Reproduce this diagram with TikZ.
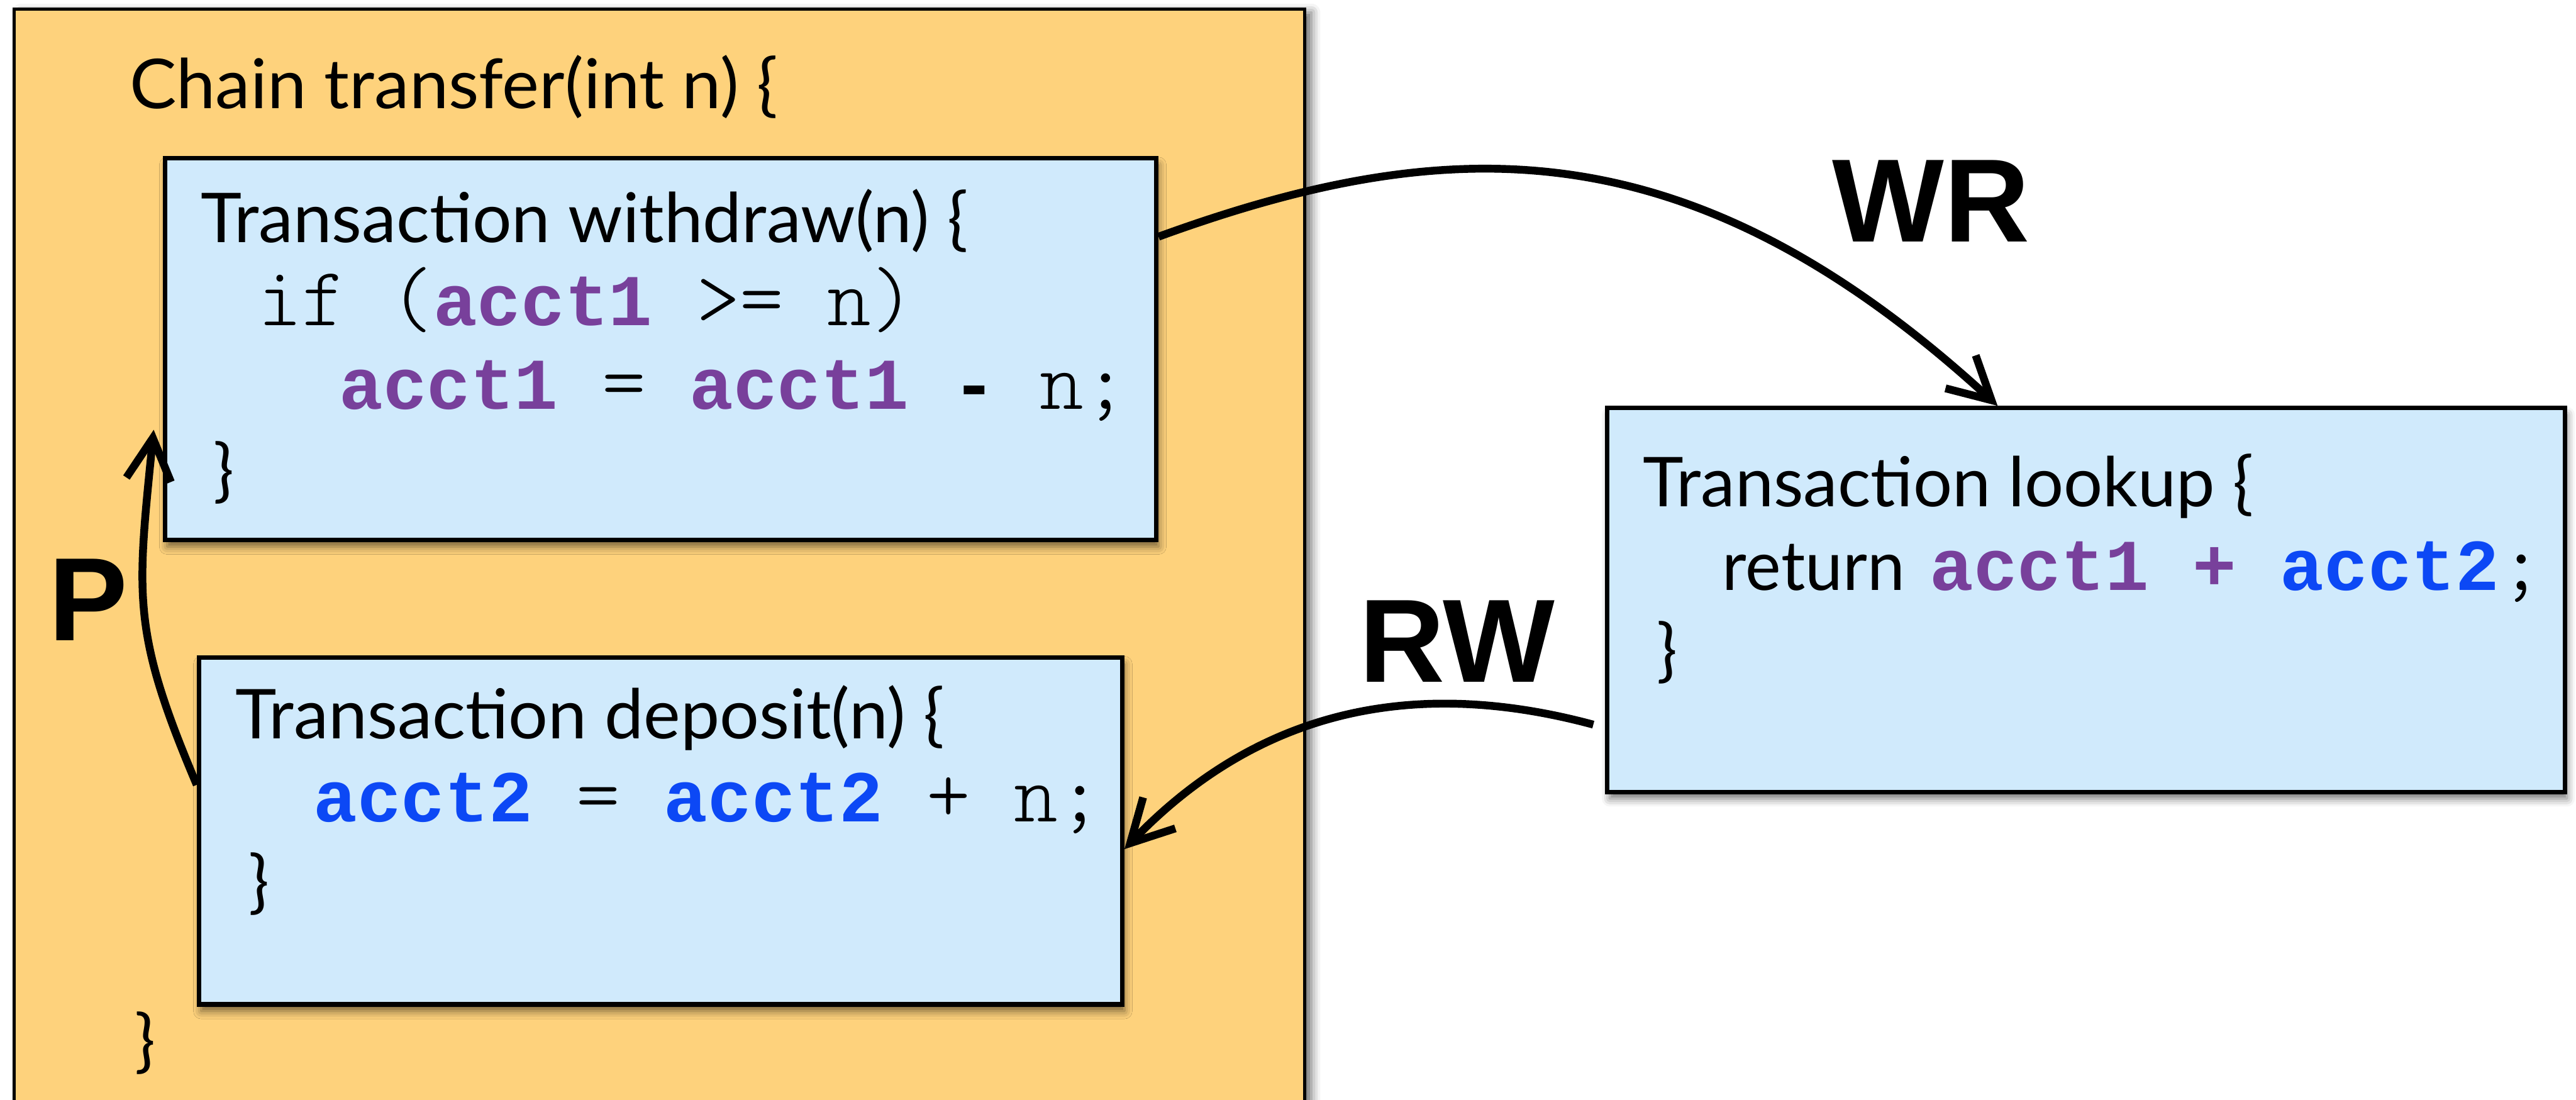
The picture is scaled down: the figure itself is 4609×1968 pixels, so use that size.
\documentclass[tikz,border=0pt]{standalone}
\usepackage{fontspec}
\usetikzlibrary{arrows.meta,calc,shadows.blur}
\setmainfont{Lato}
\newfontfamily\codefont{Liberation Mono}
\newfontfamily\labelfont{Liberation Sans}

\definecolor{chainfill}{RGB}{254,210,124}
\definecolor{txfill}{RGB}{208,234,252}
\definecolor{varone}{RGB}{120,64,155}
\definecolor{vartwo}{RGB}{12,72,245}

% text set-ups: prose, code, dependency labels
\newcommand\gs{\fontsize{12.3pt}{14pt}\selectfont}
% thin typewriter for plain code, same 7.84pt pitch as the bold code face
\newcommand\cd{\fontfamily{lmtt}\fontseries{l}\fontsize{14.93pt}{17pt}\selectfont}
\newcommand\cdb[1]{{\codefont\bfseries\fontsize{13.06pt}{15pt}\selectfont #1}}
\newcommand\lbl{\labelfont\bfseries\fontsize{21.2pt}{24pt}\selectfont}
\newcommand\fitto[2]{\resizebox{#1}{\height}{#2}}
\newcommand\vA{\textcolor{varone}{\cdb{acct1}}}
\newcommand\vB{\textcolor{vartwo}{\cdb{acct2}}}

\tikzset{
  chainbox/.style={draw=black, line width=0.5pt, fill=chainfill, anchor=north west,
    inner sep=0pt, blur shadow={shadow xshift=1.2pt, shadow yshift=-0.6pt,
    shadow blur radius=1.6pt, shadow opacity=60}},
  txbox/.style={draw=black, line width=0.8pt, fill=txfill, anchor=north west,
    inner sep=0pt, blur shadow={shadow xshift=0.4pt, shadow yshift=-1.2pt,
    shadow blur radius=1.4pt, shadow opacity=55}},
  txt/.style={anchor=base west, inner sep=0pt, outer sep=0pt},
  deplabel/.style={anchor=center, inner sep=0pt, font=\lbl},
  link/.style={line width=1.4pt, -{Straight Barb[length=7.5pt,width=8pt]}},
}

\begin{document}
\begin{tikzpicture}[x=0.1pt, y=-0.1pt]
  \path[use as bounding box] (0,0) rectangle (4609,1968);
  \clip (0,0) rectangle (4609,1968);

  % outer chain
  \node[chainbox, minimum width=230.9pt, minimum height=200pt] (chain) at (23,14) {};
  \node[txt] (chaintitle) at (232,194) {\gs\fitto{116pt}{Chain transfer(int n) \{}};
  \node[txt] (chainclose) at (241,1905) {\gs\}};

  % withdraw transaction
  \node[txbox, minimum width=177.4pt, minimum height=68.3pt] (withdraw) at (291,279) {};
  \node[txt] (wtitle) at (359,434) {\gs\fitto{137.3pt}{Transaction withdraw(n) \{}};
  \node[txt] (wline1) at (462,582) {\cd if (\vA{} >= n)};
  \node[txt] (wline2) at (607,732) {\cd \vA{} = \vA{} \cdb{-} n;};
  \node[txt] (wclose) at (382,884) {\gs\}};

  % deposit transaction
  \node[txbox, minimum width=165.2pt, minimum height=62.1pt] (deposit) at (352,1172) {};
  \node[txt] (dtitle) at (421,1321) {\gs\fitto{126.9pt}{Transaction deposit(n) \{}};
  \node[txt] (dline1) at (561,1470) {\cd \vB{} = \vB{} + n;};
  \node[txt] (dclose) at (445,1620) {\gs\}};

  % lookup transaction
  \node[txbox, minimum width=171.3pt, minimum height=68.7pt] (lookup) at (2872,726) {};
  \node[txt] (ltitle) at (2940,906) {\gs\fitto{109.2pt}{Transaction lookup \{}};
  \node[txt] (lret) at (3082,1056) {\gs\fitto{32.6pt}{return}};
  \node[txt] (lexpr) at (3453,1056) {\cd\textcolor{varone}{\cdb{acct1 +}} \vB;};
  \node[txt] (lclose) at (2964,1206) {\gs\}};

  % dependency labels
  \node[deplabel] (wrlabel) at (3455,360) {WR};
  \node[deplabel] (rwlabel) at (2607,1147) {RW};
  \node[deplabel] (plabel) at (158,1073) {P};

  % dependency edges
  \coordinate (wrstart) at ($(withdraw.north east)!0.209!(withdraw.south east)$);
  \coordinate (wrend) at ($(lookup.north west)!0.408!(lookup.north east)$);
  \draw[link] (wrstart) .. controls +(517,-188) and +(-553,-507) .. (wrend);

  \coordinate (rwstart) at ($(lookup.north west)!0.829!(lookup.south west)$);
  \coordinate (rwend) at ($(deposit.north east)!0.552!(deposit.south east)$);
  \draw[link, shorten <=2.2pt] (rwstart) .. controls +(-338,-91) and +(242,-252) .. (rwend);

  \coordinate (pstart) at ($(deposit.north west)!0.369!(deposit.south west)$);
  \coordinate (pend) at ($($(withdraw.north west)!0.709!(withdraw.south west)$)+(-16,0)$);
  \draw[link] (pstart) .. controls +(-117,-276) and +(-30,299) .. (pend);
\end{tikzpicture}
\end{document}
